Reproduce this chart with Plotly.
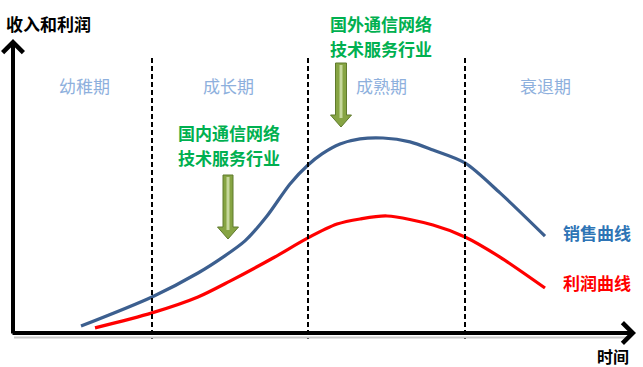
import plotly.graph_objects as go

# ---- data (time units, value units) ----
sales_t = [13.6, 27.8, 37.0, 42.0, 46.4, 50.8, 55.4, 59.0, 61.8, 65.4, 69.4, 74.0, 79.4, 84.0, 90.4, 97.4, 106.4]
sales_v = [2.3, 12.0, 20.0, 25.3, 30.7, 39.0, 49.7, 56.0, 59.7, 63.0, 64.7, 65.0, 63.7, 61.0, 56.7, 46.7, 32.3]
profit_t = [16.4, 27.8, 37.0, 43.4, 52.0, 59.0, 64.8, 69.4, 74.8, 84.0, 90.4, 97.4, 106.4]
profit_v = [1.7, 6.7, 12.0, 17.3, 25.0, 31.7, 36.3, 38.0, 39.0, 36.0, 32.0, 25.3, 15.0]
phase_bounds = [27.8, 59.0, 90.4]
phase_names = ["幼稚期", "成长期", "成熟期", "衰退期"]
series_names = ["销售曲线", "利润曲线"]

W, H = 643, 367
OX, OY, SX, SY = 13, 333, 5.0, 3.0


def tx(px):
    return (px - OX) / SX


def vy(py):
    return (OY - py) / SY


FONT = "Noto Sans CJK SC"
fig = go.Figure()

fig.add_trace(go.Scatter(x=sales_t, y=sales_v, mode="lines", name=series_names[0],
                         line=dict(color="#3c5f8f", width=3.2, shape="spline", smoothing=0.8),
                         hoverinfo="skip"))
fig.add_trace(go.Scatter(x=profit_t, y=profit_v, mode="lines", name=series_names[1],
                         line=dict(color="#ff0000", width=3.2, shape="spline", smoothing=0.8),
                         hoverinfo="skip"))

shapes = []
# dashed phase boundaries
for b in phase_bounds:
    shapes.append(dict(type="line", xref="x", yref="y", x0=b, x1=b, y0=vy(58), y1=vy(339),
                       line=dict(color="black", width=2, dash="5px,3px")))
# shadow under x axis
shapes.append(dict(type="line", xref="x", yref="y", x0=tx(14), x1=tx(628), y0=vy(337.5), y1=vy(337.5),
                   line=dict(color="#c8c8c8", width=2)))


def green_arrow(xc, top, head_top, bottom, shaft_w, head_w):
    x0, x1 = xc - shaft_w / 2, xc + shaft_w / 2
    h0, h1 = xc - head_w / 2, xc + head_w / 2
    pts = [(x0, top), (x1, top), (x1, head_top), (h1, head_top), (xc, bottom), (h0, head_top), (x0, head_top)]
    path = "M " + " L ".join(f"{tx(a):.3f},{vy(b):.3f}" for a, b in pts) + " Z"
    shapes.append(dict(type="path", xref="x", yref="y", path=path,
                       fillcolor="#86a443", line=dict(color="#5f7a2c", width=1)))
    shapes.append(dict(type="line", xref="x", yref="y", x0=tx(xc), x1=tx(xc), y0=vy(top + 2), y1=vy(head_top + 3),
                       line=dict(color="#c6d89c", width=3)))


green_arrow(228, 175, 227, 239, 10, 21)
green_arrow(341, 63, 115, 127, 11, 21)

annotations = []
# axes with arrowheads
annotations.append(dict(x=tx(636), y=0, ax=tx(11), ay=0, xref="x", yref="y", axref="x", ayref="y",
                        showarrow=True, arrowhead=4, arrowsize=1.0, arrowwidth=4, arrowcolor="black", text=""))
annotations.append(dict(x=0, y=vy(39), ax=0, ay=vy(335), xref="x", yref="y", axref="x", ayref="y",
                        showarrow=True, arrowhead=4, arrowsize=1.0, arrowwidth=4, arrowcolor="black", text=""))


def txt(s, px, py, color, size=17, bold=False, align="center"):
    annotations.append(dict(x=tx(px), y=vy(py), xref="x", yref="y", text=(f"<b>{s}</b>" if bold else s),
                            showarrow=False, xanchor=align, yanchor="middle",
                            font=dict(family=FONT, size=size, color=color)))


txt("收入和利润", 4, 23, "black", 17, True, "left")
txt("时间", 595, 356, "black", 16, True, "left")

phase_x = [84, 228, 381, 545]
for name, px in zip(phase_names, phase_x):
    txt(name, px, 85, "#8eb0dd", 17)

txt("国内通信网络", 229, 132, "#00b050", 17, True)
txt("技术服务行业", 229, 157, "#00b050", 17, True)
txt("国外通信网络", 381, 23, "#00b050", 17, True)
txt("技术服务行业", 381, 48, "#00b050", 17, True)

txt(series_names[0], 561, 232, "#2e74b5", 17, True, "left")
txt(series_names[1], 561, 282, "#ff0000", 17, True, "left")

fig.update_layout(
    width=W, height=H, margin=dict(l=0, r=0, t=0, b=0),
    plot_bgcolor="white", paper_bgcolor="white", showlegend=False,
    xaxis=dict(range=[tx(0), tx(W)], visible=False, fixedrange=True),
    yaxis=dict(range=[vy(H), vy(0)], visible=False, fixedrange=True),
    shapes=shapes, annotations=annotations,
)

fig.write_html("out.html", config={"displayModeBar": False},
               post_script="document.body.style.margin='0';document.body.style.overflow='hidden';")
